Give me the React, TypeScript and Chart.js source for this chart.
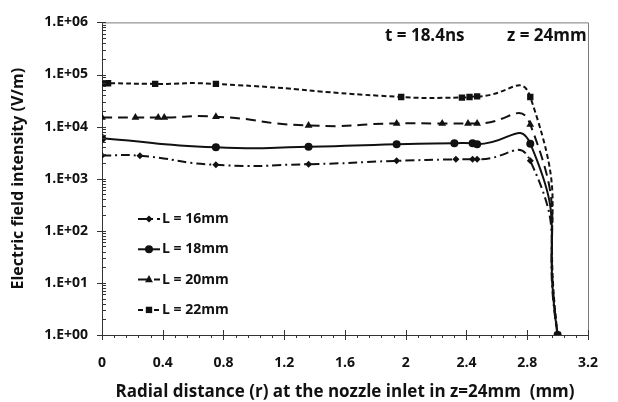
import { useEffect, useRef } from "react";
import { Chart, registerables } from "chart.js";

Chart.register(...registerables);

// Radial positions (mm) and field intensity (V/m) for each nozzle length L
const r16 = [0, 0.25, 0.75, 1.36, 1.94, 2.33, 2.44, 2.47, 2.82, 3.0];
const e16 = [2800, 2750, 1850, 1900, 2200, 2350, 2350, 2350, 2200, 1];

const r18 = [0, 0.75, 1.36, 1.94, 2.32, 2.44, 2.47, 2.82, 3.0];
const e18 = [6000, 4000, 4100, 4600, 4800, 4800, 4600, 4700, 1];

const r20 = [0, 0.22, 0.37, 0.41, 0.75, 1.36, 1.94, 2.24, 2.41, 2.47, 2.82, 3.0];
const e20 = [15000, 15000, 15000, 15000, 15500, 10500, 11500, 11500, 11500, 11500, 11000, 1];

const r22 = [0, 0.04, 0.35, 0.75, 1.97, 2.37, 2.42, 2.47, 2.82, 3.0];
const e22 = [68000, 68000, 66000, 66000, 37000, 36000, 37000, 38000, 37000, 1];

const seriesLabels = ["L = 16mm", "L = 18mm", "L = 20mm", "L = 22mm"];
const seriesDash = [[9, 4, 2, 4], [], [10, 6], [5, 3]];
const seriesMarker = ["rectRot", "circle", "triangle", "rect"];
const seriesRadius = [3.5, 4, 4.5, 4.5];

const xTickValues = [0, 0.4, 0.8, 1.2, 1.6, 2, 2.4, 2.8, 3.2];
const yTickValues = [1, 10, 100, 1000, 10000, 100000, 1000000];

const xTitle = "Radial distance (r) at the nozzle inlet in z=24mm  (mm)";
const yTitle = "Electric field intensity (V/m)";
const noteTime = "t = 18.4ns";
const noteZ = "z = 24mm";

const FONT = "'Open Sans', Lato, sans-serif";

function toPoints(xs: number[], ys: number[]) {
  return xs.map((x, i) => ({ x, y: ys[i] }));
}

function drawMarker(ctx: CanvasRenderingContext2D, style: string, x: number, y: number, r: number) {
  ctx.beginPath();
  if (style === "circle") {
    ctx.arc(x, y, r, 0, Math.PI * 2);
  } else if (style === "rect") {
    const s = r * Math.SQRT1_2;
    ctx.rect(x - s, y - s, 2 * s, 2 * s);
  } else if (style === "rectRot") {
    ctx.moveTo(x - r, y);
    ctx.lineTo(x, y - r);
    ctx.lineTo(x + r, y);
    ctx.lineTo(x, y + r);
    ctx.closePath();
  } else {
    const h = r * 1.5;
    ctx.moveTo(x, y - r);
    ctx.lineTo(x + h * 0.58, y + r * 0.6);
    ctx.lineTo(x - h * 0.58, y + r * 0.6);
    ctx.closePath();
  }
  ctx.fill();
}

const framePlugin = {
  id: "frameAndNotes",
  afterDraw(chart: any) {
    const ctx: CanvasRenderingContext2D = chart.ctx;
    const { left, right, top, bottom } = chart.chartArea;
    const xs = chart.scales.x;
    const ys = chart.scales.y;
    ctx.save();

    // top and right frame lines
    ctx.strokeStyle = "#7a7a7a";
    ctx.lineWidth = 1;
    ctx.beginPath();
    ctx.moveTo(left, top + 0.5);
    ctx.lineTo(right + 0.5, top + 0.5);
    ctx.lineTo(right + 0.5, bottom);
    ctx.stroke();

    // tick marks
    ctx.strokeStyle = "#333";
    ctx.beginPath();
    for (let d = 0; d <= 6; d++) {
      const py = Math.round(ys.getPixelForValue(Math.pow(10, d))) + 0.5;
      ctx.moveTo(left - 5, py);
      ctx.lineTo(left + 4, py);
      if (d < 6) {
        for (let k = 2; k <= 9; k++) {
          const pm = Math.round(ys.getPixelForValue(k * Math.pow(10, d))) + 0.5;
          ctx.moveTo(left, pm);
          ctx.lineTo(left + 4, pm);
        }
      }
    }
    for (let i = 0; i <= 40; i++) {
      const v = i * 0.08;
      const px = Math.round(xs.getPixelForValue(v)) + 0.5;
      if (i % 5 === 0) {
        ctx.moveTo(px, bottom - 5);
        ctx.lineTo(px, bottom + 5);
      } else {
        ctx.moveTo(px, bottom);
        ctx.lineTo(px, bottom + 3);
      }
    }
    ctx.stroke();

    // annotations
    ctx.fillStyle = "#111";
    ctx.font = `bold 17px ${FONT}`;
    ctx.textBaseline = "middle";
    ctx.textAlign = "left";
    ctx.fillText(noteTime, 385, 36);
    ctx.fillText(noteZ, 507, 36);

    // legend
    ctx.font = `bold 14px ${FONT}`;
    chart.data.datasets.forEach((ds: any, i: number) => {
      const y = 219 + i * 30.3;
      ctx.save();
      ctx.strokeStyle = "#111";
      ctx.lineWidth = 2;
      ctx.setLineDash(ds.borderDash || []);
      ctx.beginPath();
      ctx.moveTo(138, y);
      ctx.lineTo(160, y);
      ctx.stroke();
      ctx.restore();
      ctx.fillStyle = "#111";
      drawMarker(ctx, ds.pointStyle, 149, y, ds.pointRadius);
      ctx.fillText(ds.label, 162, y);
    });

    ctx.restore();
  },
};

export default function App() {
  const ref = useRef<HTMLCanvasElement | null>(null);

  useEffect(() => {
    if (!ref.current) return;
    const series = [
      toPoints(r16, e16),
      toPoints(r18, e18),
      toPoints(r20, e20),
      toPoints(r22, e22),
    ];
    const chart = new Chart(ref.current, {
      type: "line",
      data: {
        datasets: series.map((data, i) => ({
          label: seriesLabels[i],
          data,
          borderColor: "#111",
          backgroundColor: "#111",
          borderWidth: 2,
          borderDash: seriesDash[i],
          pointStyle: seriesMarker[i] as any,
          pointRadius: seriesRadius[i],
          pointBorderWidth: 0,
          pointBackgroundColor: "#111",
          tension: 0.6,
          fill: false,
        })),
      },
      options: {
        animation: false,
        responsive: false,
        layout: { padding: { left: 0, right: 12, top: 20, bottom: 0 } },
        plugins: {
          legend: { display: false },
          tooltip: { enabled: false },
        },
        scales: {
          x: {
            type: "linear",
            min: 0,
            max: 3.2,
            grid: { display: false, drawTicks: false },
            border: { display: true, color: "#333", width: 1 },
            afterBuildTicks: (s: any) => {
              s.ticks = xTickValues.map((v) => ({ value: v }));
            },
            afterFit: (s: any) => {
              s.height = 67;
            },
            ticks: {
              padding: 20,
              color: "#111",
              font: { family: FONT, size: 14, weight: "bold" },
              callback: (v: any) => String(Math.round(Number(v) * 10) / 10),
            },
            title: {
              display: true,
              text: xTitle,
              color: "#111",
              font: { family: FONT, size: 17, weight: "bold" },
              padding: { top: 0, bottom: 0 },
            },
          },
          y: {
            type: "logarithmic",
            min: 1,
            max: 1000000,
            grid: { display: false, drawTicks: false },
            border: { display: true, color: "#333", width: 1 },
            afterBuildTicks: (s: any) => {
              s.ticks = yTickValues.map((v) => ({ value: v }));
            },
            afterFit: (s: any) => {
              s.width = 102;
            },
            ticks: {
              padding: 14,
              color: "#111",
              font: { family: FONT, size: 14, weight: "bold" },
              callback: (v: any) =>
                "1.E+" + String(Math.round(Math.log10(Number(v)))).padStart(2, "0"),
            },
            title: {
              display: true,
              text: yTitle,
              color: "#111",
              font: { family: FONT, size: 16, weight: "bold" },
              padding: { top: 9, bottom: 0 },
            },
          },
        },
      },
      plugins: [framePlugin],
    });
    return () => chart.destroy();
  }, []);

  return (
    <div style={{ position: "absolute", left: 0, top: 0, width: 618, height: 402, background: "#fff" }}>
      <canvas ref={ref} width={618} height={402} />
    </div>
  );
}
